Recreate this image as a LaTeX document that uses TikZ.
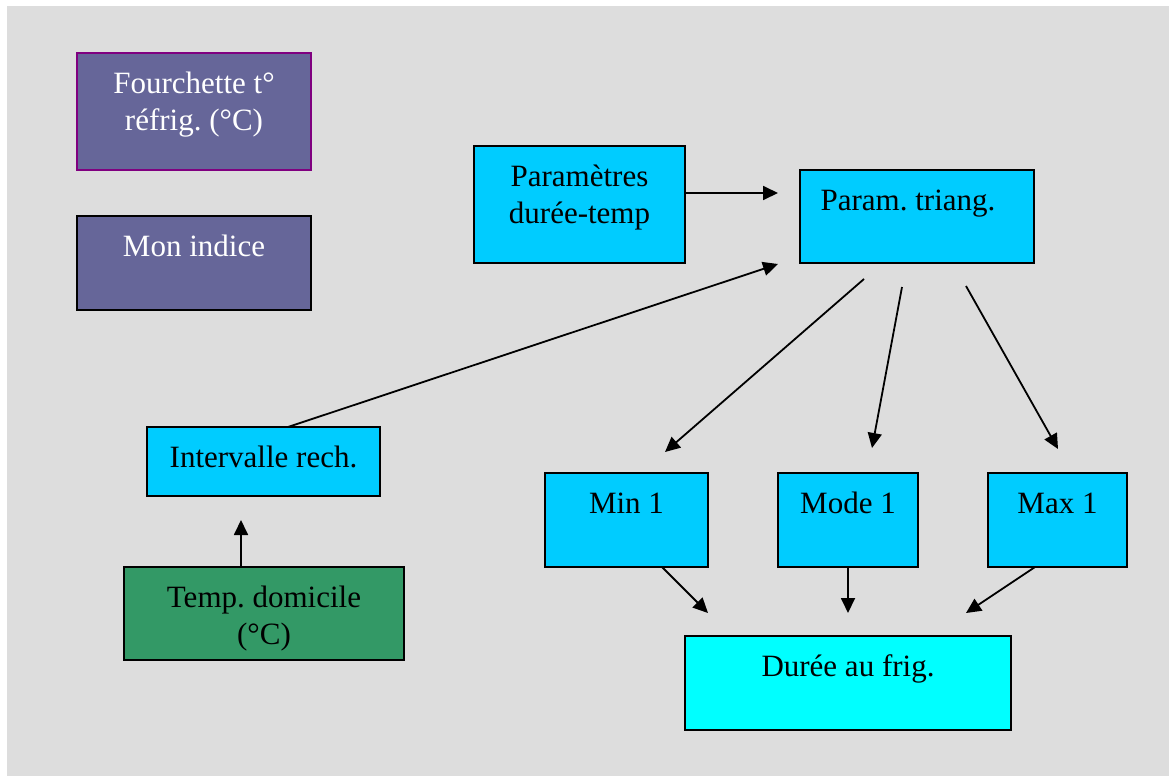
\documentclass[tikz,border=0pt]{standalone}
\usepackage{fontspec}
\setmainfont{Liberation Serif}
\usetikzlibrary{arrows.meta}
\frenchspacing
\definecolor{bggray}{HTML}{DDDDDD}
\definecolor{skyfill}{HTML}{00CCFF}
\definecolor{aquafill}{HTML}{00FFFF}
\definecolor{slatefill}{HTML}{666699}
\definecolor{greenfill}{HTML}{339966}
\definecolor{purpleline}{HTML}{800080}
\begin{document}
\begin{tikzpicture}[x=1pt,y=-1pt,
  box/.style={draw=black,line width=1.8pt,inner sep=0pt,minimum width=#1},
  box/.default=100pt,
  label text/.style={anchor=north,inner sep=0pt,align=center,yshift=-14.8pt,
    font=\fontsize{31}{37}\selectfont},
  arr/.style={line width=1.8pt,-{Triangle[length=15pt,width=14pt]}}]
  \useasboundingbox (0,0) rectangle (1169,776);
  \fill[white] (0,0) rectangle (1169,776);
  \fill[bggray] (7,6) rectangle (1169,776);

  % left column
  \node[box=234pt,minimum height=117pt,fill=slatefill,draw=purpleline] (fourchette) at (194,111.5) {};
  \node[label text,text=white] (fourchette-t) at (fourchette.north) {\strut Fourchette t°\\\strut réfrig. (°C)};
  \node[box=234pt,minimum height=94pt,fill=slatefill] (indice) at (194,263) {};
  \node[label text,text=white] (indice-t) at (indice.north) {\strut Mon indice};
  \node[box=233pt,minimum height=69pt,fill=skyfill] (interv) at (263.5,461.5) {};
  \node[label text] (interv-t) at (interv.north) {\strut Intervalle rech.};
  \node[box=280pt,minimum height=93pt,fill=greenfill] (domicile) at (264,613.5) {};
  \node[label text] (domicile-t) at (domicile.north) {\strut Temp. domicile\\\strut(°C)};

  % parameters
  \node[box=211pt,minimum height=117pt,fill=skyfill] (pdt) at (579.5,204.5) {};
  \node[label text] (pdt-t) at (pdt.north) {\strut Paramètres\\\strut durée-temp};
  \node[box=234pt,minimum height=93pt,fill=skyfill] (triang) at (917,216.5) {};
  \node[label text,xshift=-9pt] (triang-t) at (triang.north) {\strut Param. triang.};

  % triangular distribution values
  \node[box=163pt,minimum height=94pt,fill=skyfill] (min) at (626.5,520) {};
  \node[label text] (min-t) at (min.north) {\strut Min 1};
  \node[box=140pt,minimum height=94pt,fill=skyfill] (mode) at (848,520) {};
  \node[label text] (mode-t) at (mode.north) {\strut Mode 1};
  \node[box=139pt,minimum height=94pt,fill=skyfill] (max) at (1057.5,520) {};
  \node[label text] (max-t) at (max.north) {\strut Max 1};
  \node[box=326pt,minimum height=94pt,fill=aquafill] (duree) at (848,683) {};
  \node[label text] (duree-t) at (duree.north) {\strut Durée au frig.};

  % connector ends
  \coordinate (pdt-out) at (685,193);
  \coordinate (triang-in1) at (778,193);
  \coordinate (interv-out) at (288,427);
  \coordinate (triang-in2) at (778,264);
  \coordinate (domicile-out) at (241,567);
  \coordinate (interv-in) at (241,520);
  \coordinate (triang-out1) at (864,279);
  \coordinate (min-in) at (665,452);
  \coordinate (triang-out2) at (902,287);
  \coordinate (mode-in) at (872,448);
  \coordinate (triang-out3) at (966,286);
  \coordinate (max-in) at (1058,449);
  \coordinate (min-out) at (662,567);
  \coordinate (duree-in1) at (708,613);
  \coordinate (mode-out) at (848,567);
  \coordinate (duree-in2) at (848,613);
  \coordinate (max-out) at (1035,567);
  \coordinate (duree-in3) at (966,613);

  \draw[arr] (pdt-out) -- (triang-in1);
  \draw[arr] (interv-out) -- (triang-in2);
  \draw[arr] (domicile-out) -- (interv-in);
  \draw[arr] (triang-out1) -- (min-in);
  \draw[arr] (triang-out2) -- (mode-in);
  \draw[arr] (triang-out3) -- (max-in);
  \draw[arr] (min-out) -- (duree-in1);
  \draw[arr] (mode-out) -- (duree-in2);
  \draw[arr] (max-out) -- (duree-in3);
\end{tikzpicture}
\end{document}
